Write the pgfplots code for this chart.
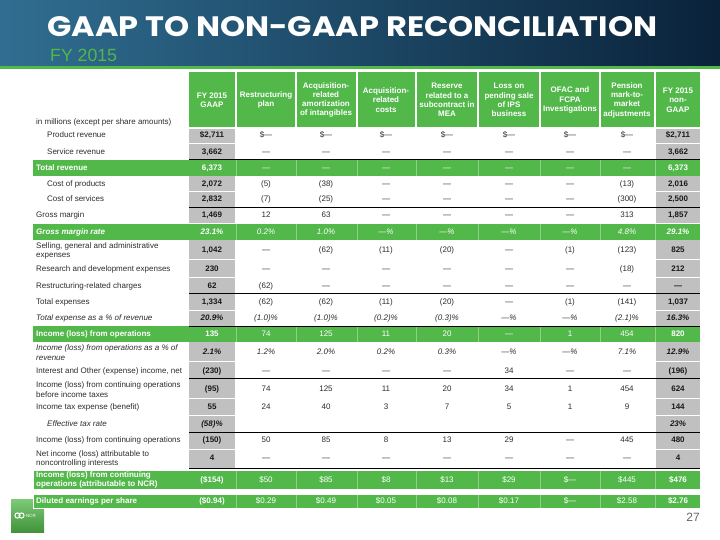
\documentclass[border=0pt]{standalone}
\usepackage{fontspec}
\setmainfont{Liberation Sans}
\newfontfamily\titlefont{Poppins}
\usepackage{graphicx}
\usepackage{pgfplots}
\pgfplotsset{compat=1.18}

\definecolor{ncrgreen}{RGB}{82,184,74}
\definecolor{cellgray}{RGB}{192,192,192}
\definecolor{txt}{RGB}{45,45,45}
\definecolor{bandL}{RGB}{48,110,145}
\definecolor{bandM}{RGB}{20,62,95}
\definecolor{bandR}{RGB}{10,34,58}

\newcommand\fs{\fontsize{8bp}{9.8bp}\selectfont}

\tikzset{
  lab/.style={anchor=west, inner sep=0, align=left, text=txt, font=\fs},
  glab/.style={anchor=west, inner sep=0, align=left, text=white, font=\fs\bfseries},
  ilab/.style={anchor=west, inner sep=0, align=left, text=txt, font=\fs\itshape},
  gilab/.style={anchor=west, inner sep=0, align=left, text=white, font=\fs\bfseries\itshape},
  cell/.style={inner sep=0, text height=5.9bp, text depth=1.7bp, anchor=center},
  n mid/.style={cell, text=txt, font=\fs},
  n end/.style={cell, text=black!90, font=\fs\bfseries},
  i mid/.style={cell, text=txt, font=\fs\itshape},
  i end/.style={cell, text=black!90, font=\fs\bfseries\itshape},
  g mid/.style={cell, text=white, font=\fs},
  g end/.style={cell, text=white, font=\fs\bfseries},
  gi mid/.style={cell, text=white, font=\fs\itshape},
  gi end/.style={cell, text=white, font=\fs\bfseries\itshape},
  head/.style={inner sep=0, align=center, text=white, font=\fontsize{8bp}{9.3bp}\selectfont\bfseries},
}

% y, style, columns 1-4
\newcommand\cellsA[6]{%
  \node[#2 end] at (212,#1) {#3};
  \node[#2 mid] at (266,#1) {#4};
  \node[#2 mid] at (326,#1) {#5};
  \node[#2 mid] at (386,#1) {#6};}
% y, style, columns 5-9
\newcommand\cellsB[7]{%
  \node[#2 mid] at (447,#1) {#3};
  \node[#2 mid] at (509,#1) {#4};
  \node[#2 mid] at (570,#1) {#5};
  \node[#2 mid] at (627,#1) {#6};
  \node[#2 end] at (678,#1) {#7};}

\begin{document}
\begin{tikzpicture}
\begin{axis}[
  width=720bp, height=540bp, scale only axis,
  xmin=0, xmax=720, ymin=0, ymax=540, y dir=reverse,
  hide axis, clip=false,
]
\fill[white] (0,0) rectangle (720,540);

% title band
\shade[left color=bandL, middle color=bandM, right color=bandR] (0,0) rectangle (720,66);
\fill[ncrgreen] (0,66) rectangle (720,69.5);
\node[anchor=south west, inner sep=0, text=white] at (47,37)
  {\resizebox{610bp}{20bp}{\titlefont\bfseries GAAP TO NON-GAAP RECONCILIATION}};
\node[anchor=base west, inner sep=0, text=ncrgreen] at (50,62)
  {\fontsize{17.7bp}{20bp}\selectfont FY 2015};

% header boxes
\fill[ncrgreen] (189,72) rectangle (235,127);
\fill[ncrgreen] (237,72) rectangle (295,127);
\fill[ncrgreen] (297,72) rectangle (356,127);
\fill[ncrgreen] (358,72) rectangle (415,127);
\fill[ncrgreen] (417,72) rectangle (477,127);
\fill[ncrgreen] (479,72) rectangle (539,127);
\fill[ncrgreen] (541,72) rectangle (599,127);
\fill[ncrgreen] (601,72) rectangle (654,127);
\fill[ncrgreen] (656,72) rectangle (700,127);
\node[head] at (212,100) {FY 2015\\GAAP};
\node[head] at (266,100) {Restructuring\\plan};
\node[head] at (326,100) {Acquisition-\\related\\amortization\\of intangibles};
\node[head] at (386,100) {Acquisition-\\related\\costs};
\node[head] at (447,100) {Reserve\\related to a\\subcontract in\\MEA};
\node[head] at (509,100) {Loss on\\pending sale\\of IPS\\business};
\node[head] at (570,100) {OFAC and\\FCPA\\Investigations};
\node[head] at (627,100) {Pension\\mark-to-\\market\\adjustments};
\node[head] at (678,100) {FY 2015\\non-\\GAAP};
\node[lab] at (36,122) {in millions (except per share amounts)};

% logo (under the last band)
\shade[top color=ncrgreen!75!white, bottom color=ncrgreen!80!black] (11,499) rectangle (44,532);
\draw[white, line width=1bp] (17.5,515.5) circle (2.6);
\draw[white, line width=1bp] (21.5,515.5) circle (2.6);
\node[inner sep=0, text=white, font=\fontsize{4.5bp}{5bp}\selectfont] at (31,515.5) {NCR};

% gray GAAP columns
\fill[cellgray] (189,129) rectangle (235,468);
\fill[cellgray] (656,129) rectangle (700,468);
\pgfplotsinvokeforeach{143.5,191.5,223.5,259.5,277.5,310,361.5,398,415.5,449}{
  \draw[white, line width=0.8bp] (189,#1) -- (235,#1);
  \draw[white, line width=0.8bp] (656,#1) -- (700,#1);
}

% green bands
\fill[ncrgreen] (33,160) rectangle (700,176);
\fill[ncrgreen] (33,224) rectangle (700,240);
\fill[ncrgreen] (33,326) rectangle (700,342);
\filldraw[fill=ncrgreen, draw=white, line width=0.8bp] (33,470) rectangle (700,489);
\filldraw[fill=ncrgreen, draw=white, line width=0.8bp] (33,494) rectangle (700,508);
\pgfplotsinvokeforeach{236,296,357,416,478,540,600,655}{
  \draw[white, opacity=0.35, line width=0.6bp] (#1,160) -- (#1,176);
  \draw[white, opacity=0.35, line width=0.6bp] (#1,224) -- (#1,240);
  \draw[white, opacity=0.35, line width=0.6bp] (#1,326) -- (#1,342);
  \draw[white, opacity=0.35, line width=0.6bp] (#1,470) -- (#1,489);
  \draw[white, opacity=0.35, line width=0.6bp] (#1,494) -- (#1,508);
}

% rules
\pgfplotsinvokeforeach{159.5,207,293,326,378,432,468}{
  \draw[black, line width=0.9bp] (189,#1) -- (700,#1);
}

% row labels
\node[lab] at (47,135) {Product revenue};
\node[lab] at (47,152) {Service revenue};
\node[glab] at (36,168) {Total revenue};
\node[lab] at (47,184) {Cost of products};
\node[lab] at (47,199) {Cost of services};
\node[lab] at (36,215) {Gross margin};
\node[gilab] at (36,232) {Gross margin rate};
\node[lab] at (36,251) {Selling, general and administrative\\expenses};
\node[lab] at (36,269) {Research and development expenses};
\node[lab] at (36,286) {Restructuring-related charges};
\node[lab] at (36,302) {Total expenses};
\node[ilab] at (36,318) {Total expense as a \% of revenue};
\node[glab] at (36,334) {Income (loss) from operations};
\node[ilab] at (36,353) {Income (loss) from operations as a \% of\\revenue};
\node[lab] at (36,371) {Interest and Other (expense) income, net};
\node[lab] at (36,390) {Income (loss) from continuing operations\\before income taxes};
\node[lab] at (36,407) {Income tax expense (benefit)};
\node[ilab] at (47,424) {Effective tax rate};
\node[lab] at (36,440) {Income (loss) from continuing operations};
\node[lab] at (36,459) {Net income (loss) attributable to\\noncontrolling interests};
\node[glab] at (36,480) {Income (loss) from continuing\\operations (attributable to NCR)};
\node[glab] at (36,501) {Diluted earnings per share};

% values
\cellsA{135}{n}{\$2,711}{\$—}{\$—}{\$—}
\cellsB{135}{n}{\$—}{\$—}{\$—}{\$—}{\$2,711}
\cellsA{152}{n}{3,662}{—}{—}{—}
\cellsB{152}{n}{—}{—}{—}{—}{3,662}
\cellsA{168}{g}{6,373}{—}{—}{—}
\cellsB{168}{g}{—}{—}{—}{—}{6,373}
\cellsA{184}{n}{2,072}{(5)}{(38)}{—}
\cellsB{184}{n}{—}{—}{—}{(13)}{2,016}
\cellsA{199}{n}{2,832}{(7)}{(25)}{—}
\cellsB{199}{n}{—}{—}{—}{(300)}{2,500}
\cellsA{215}{n}{1,469}{12}{63}{—}
\cellsB{215}{n}{—}{—}{—}{313}{1,857}
\cellsA{232}{gi}{23.1\%}{0.2\%}{1.0\%}{—\%}
\cellsB{232}{gi}{—\%}{—\%}{—\%}{4.8\%}{29.1\%}
\cellsA{250}{n}{1,042}{—}{(62)}{(11)}
\cellsB{250}{n}{(20)}{—}{(1)}{(123)}{825}
\cellsA{269}{n}{230}{—}{—}{—}
\cellsB{269}{n}{—}{—}{—}{(18)}{212}
\cellsA{286}{n}{62}{(62)}{—}{—}
\cellsB{286}{n}{—}{—}{—}{—}{—}
\cellsA{302}{n}{1,334}{(62)}{(62)}{(11)}
\cellsB{302}{n}{(20)}{—}{(1)}{(141)}{1,037}
\cellsA{318}{i}{20.9\%}{(1.0)\%}{(1.0)\%}{(0.2)\%}
\cellsB{318}{i}{(0.3)\%}{—\%}{—\%}{(2.1)\%}{16.3\%}
\cellsA{334}{g}{135}{74}{125}{11}
\cellsB{334}{g}{20}{—}{1}{454}{820}
\cellsA{352}{i}{2.1\%}{1.2\%}{2.0\%}{0.2\%}
\cellsB{352}{i}{0.3\%}{—\%}{—\%}{7.1\%}{12.9\%}
\cellsA{371}{n}{(230)}{—}{—}{—}
\cellsB{371}{n}{—}{34}{—}{—}{(196)}
\cellsA{389}{n}{(95)}{74}{125}{11}
\cellsB{389}{n}{20}{34}{1}{454}{624}
\cellsA{407}{n}{55}{24}{40}{3}
\cellsB{407}{n}{7}{5}{1}{9}{144}
\cellsA{424}{i}{(58)\%}{}{}{}
\cellsB{424}{i}{}{}{}{}{23\%}
\cellsA{440}{n}{(150)}{50}{85}{8}
\cellsB{440}{n}{13}{29}{—}{445}{480}
\cellsA{458}{n}{4}{—}{—}{—}
\cellsB{458}{n}{—}{—}{—}{—}{4}
\cellsA{480}{g}{(\$154)}{\$50}{\$85}{\$8}
\cellsB{480}{g}{\$13}{\$29}{\$—}{\$445}{\$476}
\cellsA{501}{g}{(\$0.94)}{\$0.29}{\$0.49}{\$0.05}
\cellsB{501}{g}{\$0.08}{\$0.17}{\$—}{\$2.58}{\$2.76}

% page number
\node[anchor=base east, inner sep=0, text=black!60, font=\fontsize{12bp}{14bp}\selectfont] at (700,521) {27};
\end{axis}
\end{tikzpicture}
\end{document}
